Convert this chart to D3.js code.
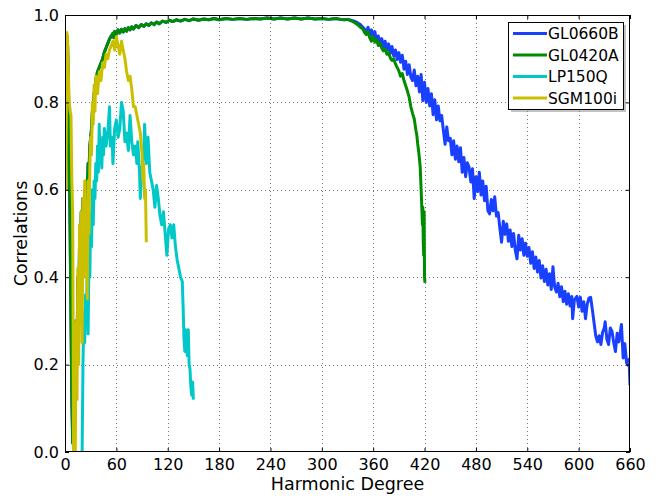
<!DOCTYPE html>
<html>
<head>
<meta charset="utf-8">
<script src="https://d3js.org/d3.v7.min.js"></script>
<style>
	body { margin: 0; background: #fff; }
	text { font-family: "DejaVu Sans", sans-serif; fill: #000; }
</style>
</head>
<body>
<div id="chart"></div>

<script>
var xTicks = [0, 60, 120, 180, 240, 300, 360, 420, 480, 540, 600, 660]
var yTicks = [0.0, 0.2, 0.4, 0.6, 0.8, 1.0]
var seriesNames = ["GL0660B", "GL0420A", "LP150Q", "SGM100i"]
var seriesColors = ["#1a40ff", "#008c00", "#00c8c8", "#cbc000"]

// low degrees: GL0660B lies under GL0420A, same values read
var lowDegrees = [[1,0.60],[2,0.95],[3,0.93],[4,0.84],[5,0.68],[6,0.50],[7,0.30],[8,0.12],[9,0.02],[10,0.08],
	[11,0.22],[12,0.12],[13,0.30],[14,0.22],[15,0.40],[16,0.30],[17,0.48],[18,0.40],[19,0.55],[20,0.45],
	[21,0.58],[22,0.52],[23,0.60],[24,0.55],[25,0.62],[26,0.60],[27,0.66],[28,0.64],[29,0.70],[30,0.72],
	[31,0.74],[32,0.78],[33,0.79],[34,0.82],[35,0.83],[36,0.85],[37,0.86],[38,0.87],[40,0.88],[42,0.89],
	[44,0.90],[46,0.915],[48,0.925],[50,0.935],[52,0.945],[54,0.952],[56,0.958],[57,0.948],[58,0.962],[60,0.956],
	[62,0.966],[64,0.959],[66,0.967],[68,0.961],[70,0.969],[72,0.963],[74,0.971],[76,0.966],[78,0.973],[80,0.968],
	[83,0.976],[86,0.971],[89,0.978],[92,0.974],[95,0.980],[98,0.976],[101,0.982],[104,0.978],[107,0.984],[110,0.980],
	[114,0.986],[118,0.983],[122,0.988],[126,0.985],[130,0.989],[135,0.986],[140,0.990],[145,0.987],[150,0.991],
	[156,0.988],[162,0.991],[168,0.989],[174,0.992],[180,0.989],[188,0.992],[196,0.990],[204,0.992],[212,0.990],
	[220,0.992],[228,0.991],[236,0.993],[244,0.991],[252,0.993],[260,0.991],[268,0.993],[276,0.991],[284,0.993],
	[292,0.991],[300,0.992],[308,0.990],[316,0.992],[322,0.990],[326,0.989]]

var gl0660bTail = [[330,0.990],[334,0.988],[338,0.986],[342,0.982],[345,0.978],[348,0.972],[350,0.968],[352,0.958],
	[354,0.972],[356,0.952],[358,0.966],[360,0.948],[362,0.962],[364,0.938],[366,0.952],[368,0.932],[370,0.946],
	[372,0.926],[374,0.940],[376,0.920],[378,0.934],[380,0.912],[382,0.928],[384,0.906],[386,0.920],[388,0.898],
	[390,0.914],[392,0.892],[394,0.908],[396,0.876],[398,0.894],[400,0.864],[402,0.886],[404,0.858],[406,0.850],
	[408,0.874],[410,0.838],[412,0.860],[414,0.824],[416,0.864],[418,0.804],[420,0.846],[422,0.800],[424,0.832],
	[426,0.792],[428,0.820],[430,0.772],[432,0.806],[434,0.760],[436,0.792],[438,0.758],[440,0.770],[442,0.736],
	[444,0.704],[446,0.744],[448,0.712],[450,0.718],[452,0.680],[454,0.712],[456,0.670],[458,0.700],[460,0.664],
	[462,0.696],[464,0.640],[466,0.674],[468,0.630],[470,0.662],[472,0.652],[474,0.618],[476,0.648],[478,0.580],
	[480,0.630],[482,0.596],[484,0.640],[486,0.588],[488,0.620],[490,0.575],[492,0.608],[494,0.552],[496,0.545],
	[498,0.578],[500,0.552],[502,0.584],[504,0.540],[506,0.548],[508,0.512],[510,0.480],[512,0.528],[514,0.498],
	[516,0.522],[518,0.482],[520,0.508],[522,0.470],[524,0.500],[526,0.462],[528,0.442],[530,0.496],[532,0.462],
	[534,0.488],[536,0.450],[538,0.478],[540,0.448],[542,0.468],[544,0.432],[546,0.458],[548,0.420],[550,0.446],
	[552,0.412],[554,0.438],[556,0.398],[558,0.426],[560,0.390],[562,0.418],[564,0.382],[566,0.408],[568,0.372],
	[570,0.424],[572,0.378],[574,0.366],[576,0.386],[578,0.355],[580,0.378],[582,0.344],[584,0.368],[586,0.338],
	[588,0.362],[590,0.334],[592,0.356],[593,0.305],[595,0.348],[598,0.356],[600,0.332],[602,0.354],[604,0.322],
	[606,0.344],[608,0.305],[610,0.338],[612,0.352],[614,0.354],[616,0.326],[618,0.296],[620,0.266],[622,0.252],
	[624,0.266],[626,0.246],[628,0.274],[630,0.284],[631,0.298],[633,0.258],[635,0.246],[637,0.284],[639,0.276],
	[641,0.250],[643,0.230],[645,0.272],[647,0.252],[649,0.278],[650,0.292],[652,0.215],[654,0.248],[656,0.204],
	[658,0.198],[659,0.212],[660,0.153]]

var gl0420aTail = [[330,0.990],[334,0.987],[338,0.983],[342,0.978],[345,0.972],[348,0.968],[350,0.960],[352,0.955],
	[354,0.962],[356,0.948],[358,0.940],[360,0.950],[362,0.938],[364,0.944],[366,0.930],[368,0.936],[370,0.924],
	[372,0.918],[374,0.922],[376,0.910],[378,0.914],[380,0.902],[382,0.896],[384,0.900],[386,0.888],[388,0.880],
	[390,0.872],[392,0.860],[394,0.866],[396,0.850],[398,0.838],[400,0.826],[402,0.812],[404,0.790],[406,0.775],
	[408,0.762],[410,0.735],[411,0.725],[412,0.705],[413,0.690],[414,0.672],[415,0.650],[416,0.600],[417,0.550],
	[417.5,0.520],[418,0.560],[418.5,0.480],[419,0.450],[419.5,0.550],[420,0.400],[420.5,0.387]]

var lp150q = [[19,0.0],[20,0.0],[21,0.20],[22,0.32],[23,0.25],[24,0.36],[25,0.30],[26,0.42],[27,0.27],[28,0.45],
	[29,0.40],[30,0.55],[31,0.47],[32,0.60],[33,0.52],[34,0.62],[35,0.58],[36,0.66],[37,0.62],[38,0.70],[39,0.64],
	[40,0.75],[41,0.66],[42,0.70],[43,0.65],[44,0.72],[45,0.68],[46,0.74],[48,0.70],[50,0.73],[52,0.79],[53,0.70],
	[55,0.72],[56,0.66],[58,0.74],[60,0.76],[62,0.72],[64,0.74],[66,0.80],[68,0.78],[70,0.71],[72,0.73],[74,0.69],
	[76,0.77],[78,0.71],[80,0.68],[82,0.70],[84,0.66],[85,0.71],[87,0.64],[88,0.58],[90,0.65],[92,0.68],[93,0.75],
	[95,0.66],[97,0.72],[99,0.64],[101,0.62],[103,0.60],[105,0.56],[107,0.61],[109,0.58],[111,0.54],[113,0.52],
	[115,0.55],[117,0.50],[119,0.45],[121,0.51],[123,0.52],[125,0.49],[127,0.52],[129,0.47],[131,0.44],[133,0.42],
	[135,0.40],[137,0.39],[138,0.33],[139,0.26],[140,0.23],[141,0.28],[142,0.24],[143,0.22],[144,0.28],[145,0.20],
	[146,0.19],[147,0.15],[148,0.13],[149,0.16],[150,0.12]]

var sgm100i = [[1,0.60],[2,0.96],[3,0.95],[4,0.86],[5,0.80],[6,0.78],[7,0.77],[8,0.62],[9,0.55],[10,0.0],[11,0.30],
	[12,0.0],[13,0.29],[14,0.12],[15,0.42],[16,0.20],[17,0.52],[18,0.38],[19,0.55],[20,0.25],[21,0.58],[22,0.40],
	[23,0.62],[24,0.45],[25,0.55],[26,0.35],[27,0.62],[28,0.50],[29,0.65],[30,0.72],[31,0.68],[32,0.80],[33,0.75],
	[34,0.84],[35,0.78],[36,0.86],[38,0.82],[40,0.87],[42,0.85],[44,0.89],[46,0.88],[48,0.91],[50,0.90],[52,0.92],
	[54,0.93],[56,0.94],[58,0.92],[60,0.95],[62,0.93],[64,0.91],[66,0.94],[68,0.92],[70,0.90],[72,0.87],[74,0.85],
	[76,0.86],[78,0.83],[80,0.79],[82,0.79],[84,0.77],[86,0.75],[88,0.73],[90,0.68],[91,0.62],[92,0.66],[93,0.58],
	[94,0.60],[95,0.48]]

var series = [lowDegrees.concat(gl0660bTail), lowDegrees.concat(gl0420aTail), lp150q, sgm100i]

var width = 666, height = 496
var margin = {left: 65, right: 36, top: 15, bottom: 44}
var plotW = width - margin.left - margin.right
var plotH = height - margin.top - margin.bottom

var svg = d3.select("#chart").append("svg")
	.attr("width", width)
	.attr("height", height)

var x = d3.scaleLinear().domain([0, 660]).range([margin.left, margin.left + plotW])
var y = d3.scaleLinear().domain([0, 1]).range([margin.top + plotH, margin.top])

svg.append("defs").append("clipPath").attr("id", "plotclip")
	.append("rect")
	.attr("x", margin.left).attr("y", margin.top)
	.attr("width", plotW).attr("height", plotH)

// grid
var grid = svg.append("g")
grid.selectAll(".vg").data(xTicks.slice(1, -1)).enter().append("line")
	.attr("x1", function(d) { return Math.round(x(d)) + 0.5 })
	.attr("x2", function(d) { return Math.round(x(d)) + 0.5 })
	.attr("y1", margin.top).attr("y2", margin.top + plotH)
	.style("stroke", "#777").style("stroke-dasharray", "1,3")
grid.selectAll(".hg").data(yTicks.slice(1, -1)).enter().append("line")
	.attr("y1", function(d) { return Math.round(y(d)) + 0.5 })
	.attr("y2", function(d) { return Math.round(y(d)) + 0.5 })
	.attr("x1", margin.left).attr("x2", margin.left + plotW)
	.style("stroke", "#777").style("stroke-dasharray", "1,3")

// lines
var line = d3.line()
	.x(function(d) { return x(d[0]) })
	.y(function(d) { return y(d[1]) })

svg.append("g").attr("clip-path", "url(#plotclip)")
	.selectAll("path").data(series).enter().append("path")
	.attr("d", line)
	.style("fill", "none")
	.style("stroke", function(d, i) { return seriesColors[i] })
	.style("stroke-width", 3)
	.style("stroke-linejoin", "round")

// axes
var xAxis = d3.axisBottom(x).tickValues(xTicks).tickSize(-4).tickPadding(7).tickFormat(d3.format("d"))
var yAxis = d3.axisLeft(y).tickValues(yTicks).tickSize(-4).tickPadding(6).tickFormat(d3.format(".1f"))

var gx = svg.append("g").attr("transform", "translate(0," + (margin.top + plotH) + ")").call(xAxis)
var gy = svg.append("g").attr("transform", "translate(" + margin.left + ",0)").call(yAxis)
svg.append("g").attr("transform", "translate(0," + margin.top + ")")
	.call(d3.axisTop(x).tickValues(xTicks).tickSize(-4).tickFormat(""))
svg.append("g").attr("transform", "translate(" + (margin.left + plotW) + ",0)")
	.call(d3.axisRight(y).tickValues(yTicks).tickSize(-4).tickFormat(""))

svg.selectAll(".domain").remove()
svg.selectAll(".tick line").style("stroke", "#000")
gx.selectAll("text").style("font-size", "16px").style("font-family", "DejaVu Sans")
gy.selectAll("text").style("font-size", "16px").style("font-family", "DejaVu Sans")

svg.append("rect")
	.attr("x", margin.left + 0.5).attr("y", margin.top + 0.5)
	.attr("width", plotW - 1).attr("height", plotH - 1)
	.style("fill", "none").style("stroke", "#000").style("stroke-width", 1)

svg.append("text")
	.attr("x", margin.left + plotW / 2).attr("y", 490)
	.attr("text-anchor", "middle")
	.style("font-size", "17.5px")
	.text("Harmonic Degree")

svg.append("text")
	.attr("transform", "translate(27," + (margin.top + plotH / 2) + ") rotate(-90)")
	.attr("text-anchor", "middle")
	.style("font-size", "17.5px")
	.text("Correlations")

// legend
var lx = 508, ly = 22, lw = 115, lh = 87
svg.append("rect").attr("x", lx + 3).attr("y", ly + 3).attr("width", lw).attr("height", lh)
	.style("fill", "#888").style("opacity", 0.5)
svg.append("rect").attr("x", lx + 0.5).attr("y", ly + 0.5).attr("width", lw).attr("height", lh)
	.style("fill", "#fff").style("stroke", "#000").style("stroke-width", 1)

var leg = svg.selectAll(".leg").data(seriesNames).enter().append("g")
	.attr("transform", function(d, i) { return "translate(" + lx + "," + (ly + 11.5 + i * 21.5) + ")" })
leg.append("line")
	.attr("x1", 5).attr("x2", 39).attr("y1", 0).attr("y2", 0)
	.style("stroke", function(d, i) { return seriesColors[i] })
	.style("stroke-width", 3)
leg.append("text")
	.attr("x", 40).attr("y", 5.5)
	.style("font-size", "15.5px")
	.text(function(d) { return d })
</script>
</body>
</html>
